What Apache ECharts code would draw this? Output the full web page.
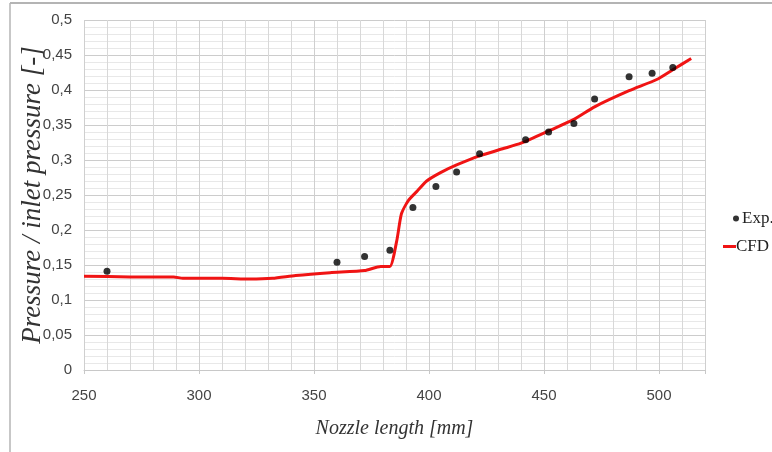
<!DOCTYPE html>
<html>
<head>
<meta charset="utf-8">
<script src="https://cdn.jsdelivr.net/npm/echarts@6/dist/echarts.min.js"></script>
<style>
  html, body { margin: 0; padding: 0; background: #fff; }
  #chart { width: 772px; height: 452px; }
</style>
</head>
<body>
<div id="chart"></div>
<script>
// measured points (nozzle length mm, p / p_inlet)
var expX = [260, 360, 372, 383, 393, 403, 412, 422, 442, 452, 463, 472, 487, 497, 506];
var expY = [0.141, 0.154, 0.162, 0.171, 0.232, 0.262, 0.283, 0.309, 0.329, 0.340, 0.352, 0.387, 0.419, 0.424, 0.432];

// CFD curve
var cfdX = [250, 270, 289, 293, 310, 322, 332, 342, 357, 372, 379, 383, 386, 388, 391, 395, 399, 405, 412, 422, 432, 440, 453, 463, 472, 487, 499, 506, 514];
var cfdY = [0.134, 0.133, 0.133, 0.131, 0.131, 0.130, 0.131, 0.135, 0.139, 0.142, 0.148, 0.148, 0.185, 0.223, 0.242, 0.256, 0.270, 0.282, 0.293, 0.306, 0.316, 0.324, 0.343, 0.358, 0.376, 0.399, 0.415, 0.429, 0.445];

var xTicks = [250, 300, 350, 400, 450, 500];

function pairs(xs, ys) {
  return xs.map(function (x, i) { return [x, ys[i]]; });
}

var myChart = echarts.init(document.getElementById("chart"));
myChart.setOption({
  animation: false,
  backgroundColor: "#fff",
  graphic: [
    // outer frame of the picture
    { type: "line", shape: { x1: 10, y1: 3, x2: 772, y2: 3 }, style: { stroke: "#b4b4b4", lineWidth: 2 } },
    { type: "line", shape: { x1: 10, y1: 3, x2: 10, y2: 452 }, style: { stroke: "#b4b4b4", lineWidth: 1.5 } }
  ],
  grid: { left: 84, right: 67, top: 20, bottom: 82, outerBoundsMode: "none" },
  legend: [
    {
      data: [{ name: "Exp.", icon: "circle" }],
      left: 728, top: 205, itemWidth: 6, itemHeight: 6, itemGap: 4,
      textStyle: { fontFamily: "Liberation Serif", fontSize: 17, color: "#222", padding: [0, 0, 0, -2] }
    },
    {
      data: [{ name: "CFD", icon: "rect" }],
      left: 718, top: 233, itemWidth: 13, itemHeight: 3,
      textStyle: { fontFamily: "Liberation Serif", fontSize: 17, color: "#222", padding: [0, 0, 0, -5] }
    }
  ],
  xAxis: {
    type: "value",
    min: 250, max: 520, interval: 50,
    name: "Nozzle length [mm]",
    nameLocation: "middle", nameGap: 49,
    nameTextStyle: { fontFamily: "Liberation Serif", fontStyle: "italic", fontSize: 20, color: "#333" },
    axisLine: { show: true, lineStyle: { color: "#c8c8c8" } },
    axisTick: { show: true, length: 4, lineStyle: { color: "#c8c8c8" } },
    axisLabel: {
      margin: 18, fontFamily: "Liberation Sans Narrow, Liberation Sans", fontSize: 15, color: "#444",
      customValues: xTicks
    },
    splitLine: { show: true, lineStyle: { color: "#cfcfcf" } },
    minorTick: { show: true, splitNumber: 5, length: 0 },
    minorSplitLine: { show: true, lineStyle: { color: "#d8d8d8" } }
  },
  yAxis: {
    type: "value",
    min: 0, max: 0.5, interval: 0.05,
    name: "Pressure / inlet pressure [-]",
    nameLocation: "middle", nameGap: 38, nameRotate: 90, nameMoveOverlap: false,
    nameTextStyle: { fontFamily: "Liberation Serif", fontStyle: "italic", fontSize: 27, color: "#333" },
    axisLine: { show: false },
    axisTick: { show: false },
    axisLabel: {
      margin: 12, fontFamily: "Liberation Sans Narrow, Liberation Sans", fontSize: 15, color: "#444",
      formatter: function (v) { return String(Math.round(v * 100) / 100).replace(".", ","); }
    },
    splitLine: { show: true, lineStyle: { color: "#cccccc" } },
    minorTick: { show: true, splitNumber: 5, length: 0 },
    minorSplitLine: { show: true, lineStyle: { color: "#e8e8e8" } }
  },
  series: [
    {
      name: "Exp.",
      type: "scatter",
      data: pairs(expX, expY),
      symbol: "circle", symbolSize: 7,
      itemStyle: { color: "#000" },
      z: 3
    },
    {
      name: "CFD",
      type: "line",
      data: pairs(cfdX, cfdY),
      showSymbol: false, symbol: "none",
      smooth: 0.2,
      lineStyle: { color: "#f01414", width: 3 },
      itemStyle: { color: "#f01414" },
      z: 2
    }
  ]
});
</script>
</body>
</html>
